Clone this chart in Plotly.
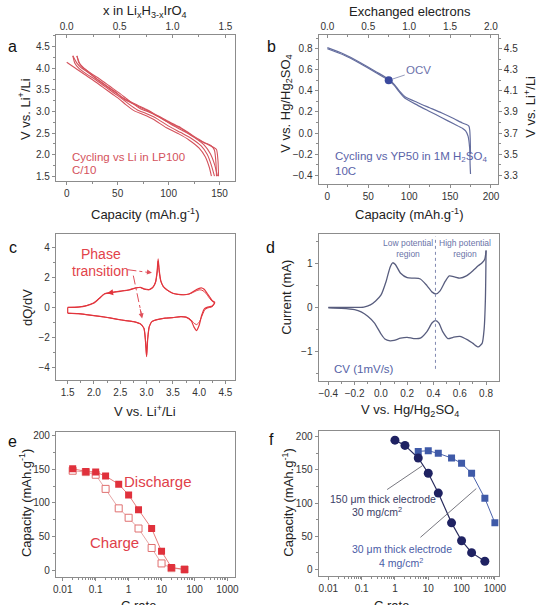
import plotly.graph_objects as go

W, H = 547, 605
FONT = "Liberation Sans, Arial, sans-serif"

# ---------------- DATA ----------------
# Panel a: galvanostatic curves vs Li (capacity mAh/g, voltage V)
a_d1_cap = [0, 5, 10, 18, 25, 35, 45, 52, 58, 66, 75, 85, 98, 110, 120, 130, 136, 140, 142]
a_d1_v = [4.14, 4.06, 3.98, 3.85, 3.74, 3.57, 3.40, 3.28, 3.16, 3.02, 2.93, 2.82, 2.62, 2.48, 2.34, 2.15, 1.95, 1.70, 1.50]
a_c1_cap = [147, 146.5, 145, 142, 135, 130, 120, 110, 98, 88, 78, 70, 62, 55, 48, 40, 30, 20, 14, 10, 6]
a_c1_v = [1.50, 1.80, 2.10, 2.20, 2.28, 2.35, 2.50, 2.65, 2.79, 2.92, 3.05, 3.14, 3.23, 3.32, 3.45, 3.58, 3.75, 3.92, 4.02, 4.12, 4.29]
a_d2_cap = [6, 8, 12, 20, 28, 38, 48, 55, 61, 69, 78, 88, 100, 112, 122, 132, 138, 142, 145]
a_d2_v = [4.29, 4.12, 4.00, 3.86, 3.74, 3.57, 3.40, 3.28, 3.17, 3.04, 2.95, 2.84, 2.66, 2.51, 2.38, 2.20, 2.00, 1.75, 1.50]
a_c2_cap = [149, 148.5, 147, 144, 137, 131, 121, 111, 99, 89, 79, 71, 63, 56, 49, 41, 31, 22, 17, 13, 10]
a_c2_v = [1.50, 1.85, 2.12, 2.17, 2.25, 2.32, 2.47, 2.62, 2.76, 2.89, 3.02, 3.11, 3.20, 3.29, 3.42, 3.55, 3.72, 3.90, 4.00, 4.10, 4.29]
a_d3_cap = [10, 12, 16, 24, 32, 42, 52, 58, 64, 72, 81, 91, 103, 115, 125, 135, 141, 145, 148]
a_d3_v = [4.29, 4.13, 4.02, 3.88, 3.76, 3.59, 3.42, 3.31, 3.20, 3.07, 2.98, 2.87, 2.69, 2.54, 2.40, 2.22, 2.02, 1.78, 1.50]

# Panel b: cycling vs YP50 in H2SO4
b_dis_cap = [0, 20, 40, 60, 75, 82, 88, 95, 110, 125, 140, 155, 165, 169, 172, 174, 174.5, 175]
b_dis_v = [0.80, 0.74, 0.66, 0.57, 0.50, 0.45, 0.39, 0.33, 0.265, 0.205, 0.145, 0.085, 0.045, 0.02, -0.03, -0.15, -0.30, -0.39]
b_chg_cap = [175, 174.6, 174, 173, 170, 165, 155, 140, 125, 110, 95, 88, 82, 75, 60, 40, 20, 0]
b_chg_v = [-0.20, -0.05, 0.03, 0.065, 0.08, 0.095, 0.135, 0.19, 0.24, 0.29, 0.345, 0.40, 0.46, 0.51, 0.58, 0.67, 0.75, 0.81]
b_ocv_cap = [75]
b_ocv_v = [0.50]

# Panel c: dQ/dV vs V (Li)
c_up1_v = [1.5, 1.7, 1.85, 2.0, 2.1, 2.2, 2.35, 2.5, 2.65, 2.8, 2.88, 2.95, 3.05, 3.12, 3.17, 3.2, 3.22, 3.24, 3.27, 3.32, 3.4, 3.5, 3.6, 3.7, 3.8, 3.88, 3.95, 4.0, 4.05, 4.1, 4.15, 4.2, 4.25, 4.3]
c_up1_q = [0.0, 0.02, 0.1, 0.3, 0.6, 0.9, 1.0, 1.08, 1.15, 1.3, 1.35, 1.25, 1.2, 1.35, 1.7, 2.4, 3.25, 2.5, 1.8, 1.4, 1.15, 0.95, 0.88, 0.85, 0.9, 1.05, 1.2, 1.28, 1.3, 1.2, 0.95, 0.7, 0.45, 0.35]
c_lo1_v = [4.3, 4.25, 4.15, 4.1, 4.05, 4.0, 3.95, 3.9, 3.85, 3.75, 3.65, 3.5, 3.35, 3.2, 3.1, 3.05, 3.02, 3.0, 2.98, 2.95, 2.88, 2.75, 2.6, 2.45, 2.3, 2.15, 2.0, 1.85, 1.7, 1.5]
c_lo1_q = [0.35, 0.1, 0.0, -0.1, -0.5, -1.2, -1.55, -1.3, -0.9, -0.65, -0.62, -0.68, -0.72, -0.82, -0.95, -1.3, -2.2, -3.3, -2.3, -1.4, -1.1, -0.95, -0.88, -0.8, -0.7, -0.62, -0.55, -0.48, -0.42, -0.38]
c_up2_v = [1.5, 1.7, 1.85, 2.0, 2.1, 2.2, 2.35, 2.5, 2.65, 2.8, 2.88, 2.95, 3.05, 3.12, 3.17, 3.2, 3.22, 3.24, 3.27, 3.32, 3.4, 3.5, 3.6, 3.7, 3.8, 3.88, 3.95, 4.0, 4.05, 4.1, 4.15, 4.2, 4.25, 4.3]
c_up2_q = [0.0, 0.03, 0.12, 0.32, 0.62, 0.92, 1.02, 1.1, 1.17, 1.32, 1.33, 1.22, 1.18, 1.33, 1.65, 2.3, 3.1, 2.4, 1.75, 1.38, 1.13, 0.94, 0.87, 0.85, 0.88, 1.0, 1.12, 1.18, 1.16, 1.05, 0.85, 0.6, 0.4, 0.3]
c_lo2_v = [4.3, 4.25, 4.15, 4.1, 4.05, 4.0, 3.95, 3.9, 3.85, 3.75, 3.65, 3.5, 3.35, 3.2, 3.1, 3.05, 3.02, 3.0, 2.98, 2.95, 2.88, 2.75, 2.6, 2.45, 2.3, 2.15, 2.0, 1.85, 1.7, 1.5]
c_lo2_q = [0.3, 0.05, -0.05, -0.2, -0.6, -1.0, -1.15, -1.05, -0.85, -0.65, -0.62, -0.68, -0.72, -0.82, -0.95, -1.3, -2.1, -3.2, -2.2, -1.4, -1.1, -0.95, -0.88, -0.8, -0.7, -0.62, -0.55, -0.48, -0.42, -0.4]

# Panel d: CV vs Hg/Hg2SO4
d_up_v = [-0.4, -0.3, -0.2, -0.13, -0.08, -0.04, 0.0, 0.04, 0.07, 0.09, 0.11, 0.15, 0.2, 0.25, 0.3, 0.35, 0.39, 0.42, 0.45, 0.49, 0.52, 0.56, 0.6, 0.65, 0.7, 0.74, 0.77, 0.79, 0.8]
d_up_i = [0.0, 0.0, 0.0, 0.01, 0.06, 0.15, 0.28, 0.6, 0.92, 1.02, 0.98, 0.78, 0.68, 0.67, 0.65, 0.5, 0.35, 0.31, 0.38, 0.6, 0.72, 0.7, 0.67, 0.72, 0.84, 0.95, 1.02, 1.1, 1.3]
d_lo_v = [0.8, 0.795, 0.785, 0.77, 0.74, 0.7, 0.66, 0.6, 0.55, 0.51, 0.47, 0.44, 0.415, 0.39, 0.35, 0.3, 0.25, 0.2, 0.15, 0.1, 0.07, 0.03, 0.0, -0.05, -0.1, -0.15, -0.2, -0.3, -0.4]
d_lo_i = [1.3, 0.2, -0.5, -0.82, -0.9, -0.82, -0.74, -0.66, -0.68, -0.71, -0.55, -0.35, -0.3, -0.35, -0.55, -0.7, -0.71, -0.68, -0.7, -0.75, -0.76, -0.72, -0.6, -0.35, -0.2, -0.1, -0.05, -0.02, -0.01]
d_divider_v = 0.415

# Panel e: rate capability vs Li
e_rate = [0.02, 0.05, 0.1, 0.2, 0.5, 1, 2, 5, 10, 20, 50]
e_discharge = [151, 147, 146, 140, 128, 112, 90, 62, 28, 4, 1]
e_charge = [148, 146, 142, 121, 92, 78, 62, 33, 10, 3, 1]

# Panel f: rate capability in H2SO4
f_rate_thick = [1, 2, 5, 10, 20, 50, 100, 200, 500]
f_cap_thick = [195, 187, 168, 145, 115, 70, 43, 25, 12]
f_rate_thin = [5, 10, 20, 50, 100, 200, 500, 1000]
f_cap_thin = [178, 179, 175, 168, 160, 145, 107, 70]

# ---------------- STYLE ----------------
RED_A = "#d4525c"
BLUE_B = "#646d9e"
RED_C = "#e2343c"
GREY_D = "#585d7e"
AXC = "#8c8c8c"
TXT = "#333333"
TICK_SIZE = 10


def px(x, y):
    return x / W, 1 - y / H


def dom_x(l, r):
    return [l / W, r / W]


def dom_y(t, b):
    return [1 - b / H, 1 - t / H]


def base_axis(**kw):
    d = dict(showline=True, linecolor=AXC, linewidth=1, ticks="outside", ticklen=3,
             tickcolor=AXC, tickfont=dict(size=TICK_SIZE, color=TXT, family=FONT),
             showgrid=False, zeroline=False, fixedrange=True)
    d.update(kw)
    return d


fig = go.Figure()


def line(x, y, xa, ya, color, width=1.0, shape="spline", smoothing=0.6, dash=None):
    fig.add_trace(go.Scatter(x=x, y=y, xaxis=xa, yaxis=ya, mode="lines",
                             line=dict(color=color, width=width, shape=shape,
                                       smoothing=smoothing if shape == "spline" else None,
                                       dash=dash),
                             hoverinfo="skip", showlegend=False))


def ghost(x, y, xa, ya):
    fig.add_trace(go.Scatter(x=x, y=y, xaxis=xa, yaxis=ya, mode="markers",
                             marker=dict(opacity=0), hoverinfo="skip", showlegend=False))


# Panel a
for cx, cy in [(a_d1_cap, a_d1_v), (a_c1_cap, a_c1_v), (a_d2_cap, a_d2_v),
               (a_c2_cap, a_c2_v), (a_d3_cap, a_d3_v)]:
    line(cx, cy, "x", "y", RED_A, 1.1)
ghost([0.5], [3.0], "x2", "y")

# Panel b
line(b_dis_cap, b_dis_v, "x3", "y2", BLUE_B, 1.2)
line(b_chg_cap, b_chg_v, "x3", "y2", BLUE_B, 1.2)
fig.add_trace(go.Scatter(x=b_ocv_cap, y=b_ocv_v, xaxis="x3", yaxis="y2", mode="markers",
                         marker=dict(color="#3b4a9e", size=8), hoverinfo="skip", showlegend=False))
ghost([1.0], [0.2], "x4", "y2")
ghost([100], [3.9], "x3", "y3")

# Panel c
line(c_up1_v, c_up1_q, "x5", "y4", RED_C, 1.2, smoothing=0.5)
line(c_lo1_v, c_lo1_q, "x5", "y4", RED_C, 1.2, smoothing=0.5)
line(c_up2_v, c_up2_q, "x5", "y4", RED_C, 1.0, smoothing=0.5)
line(c_lo2_v, c_lo2_q, "x5", "y4", RED_C, 1.0, smoothing=0.5)
line([c_up1_v[0], c_lo1_v[-1]], [c_up1_q[0], c_lo1_q[-1]], "x5", "y4", RED_C, 1.2, shape="linear")
line([c_up1_v[-1], c_lo1_v[0]], [c_up1_q[-1], c_lo1_q[0]], "x5", "y4", RED_C, 1.2, shape="linear")

# Panel d
line(d_up_v, d_up_i, "x6", "y5", GREY_D, 1.3, smoothing=0.6)
line(d_lo_v, d_lo_i, "x6", "y5", GREY_D, 1.3, smoothing=0.6)
line([d_divider_v, d_divider_v], [-1.4, 1.62], "x6", "y5", "#8088b0", 1.0, shape="linear", dash="dot")

# Panel e
fig.add_trace(go.Scatter(x=e_rate, y=e_charge, xaxis="x7", yaxis="y6", mode="lines+markers",
                         line=dict(color="#e09090", width=0.8),
                         marker=dict(symbol="square", size=7, color="white",
                                     line=dict(width=1, color="#e07070")),
                         hoverinfo="skip", showlegend=False))
fig.add_trace(go.Scatter(x=e_rate, y=e_discharge, xaxis="x7", yaxis="y6", mode="lines+markers",
                         line=dict(color="#e05a5a", width=0.8),
                         marker=dict(symbol="square", size=7, color="#e0313c"),
                         hoverinfo="skip", showlegend=False))

# Panel f
fig.add_trace(go.Scatter(x=f_rate_thin, y=f_cap_thin, xaxis="x8", yaxis="y7", mode="lines+markers",
                         line=dict(color="#4a62ac", width=1),
                         marker=dict(symbol="square", size=7, color="#3f5aa8"),
                         hoverinfo="skip", showlegend=False))
fig.add_trace(go.Scatter(x=f_rate_thick, y=f_cap_thick, xaxis="x8", yaxis="y7", mode="lines+markers",
                         line=dict(color="#2a2d5e", width=1.2),
                         marker=dict(symbol="circle", size=9, color="#1f2262"),
                         hoverinfo="skip", showlegend=False))

# ---------------- AXES ----------------
lin_minor = lambda d, t="outside": dict(ticks=t, ticklen=2, tickcolor=AXC, dtick=d)
log_minor = dict(tickmode="array", ticks="outside", ticklen=2, tickcolor=AXC,
                 tickvals=[m * 10.0 ** e for e in range(-2, 3) for m in range(2, 10)])
log_vals = [0.01, 0.1, 1, 10, 100, 1000]
log_text = ["0.01", "0.1", "1", "10", "100", "1000"]

xa_ = dom_x(54, 237)
xb_ = dom_x(322, 505)

layout_axes = dict(
    # panel a
    xaxis=base_axis(domain=xa_, range=[-10.6, 165.4], anchor="y", mirror=True,
                    tick0=0, dtick=50, minor=lin_minor(25)),
    xaxis2=base_axis(range=[-0.102, 1.593], anchor="y", overlaying="x", side="top",
                     ticks="inside", tick0=0, dtick=0.5, tickformat=".1f",
                     minor=lin_minor(0.25, "inside")),
    yaxis=base_axis(domain=dom_y(33, 180), range=[1.385, 4.777], anchor="x", mirror=True,
                    tick0=1.5, dtick=0.5, tickformat=".1f", minor=lin_minor(0.25)),
    # panel b
    xaxis3=base_axis(domain=xb_, range=[-10.8, 208.4], anchor="y2", mirror=True,
                     tick0=0, dtick=50, minor=lin_minor(25)),
    xaxis4=base_axis(range=[-0.108, 2.084], anchor="y2", overlaying="x3", side="top",
                     ticks="inside", tick0=0, dtick=0.5, tickformat=".1f",
                     minor=lin_minor(0.25, "inside")),
    yaxis2=base_axis(domain=dom_y(33, 183), range=[-0.485, 0.932], anchor="x3", mirror=True,
                     tick0=-0.4, dtick=0.2, tickformat=".1f", minor=lin_minor(0.1)),
    yaxis3=base_axis(range=[3.215, 4.632], anchor="x3", overlaying="y2", side="right",
                     tick0=3.3, dtick=0.2, tickformat=".1f", minor=lin_minor(0.1)),
    # panel c
    xaxis5=base_axis(domain=dom_x(54, 237), range=[1.276, 4.686], anchor="y4", mirror=True,
                     tick0=1.5, dtick=0.5, tickformat=".1f", minor=lin_minor(0.25)),
    yaxis4=base_axis(domain=dom_y(233, 380), range=[-4.87, 4.93], anchor="x5", mirror=True,
                     tick0=-4, dtick=2, minor=lin_minor(1)),
    # panel d
    xaxis6=base_axis(domain=dom_x(322, 506), range=[-0.4745, 0.897], anchor="y5", mirror=True,
                     tick0=-0.4, dtick=0.2, tickformat=".1f", minor=lin_minor(0.1)),
    yaxis5=base_axis(domain=dom_y(233, 381), range=[-1.68, 1.68], anchor="x6", mirror=True,
                     tick0=-1, dtick=1, minor=lin_minor(0.5)),
    # panel e
    xaxis7=base_axis(domain=dom_x(54, 237), type="log", range=[-2.208, 3.238], anchor="y6",
                     mirror=True, tickmode="array", tickvals=log_vals, ticktext=log_text,
                     minor=log_minor),
    yaxis6=base_axis(domain=dom_y(432, 578), range=[-10.4, 205.9], anchor="x7", mirror=True,
                     tick0=0, dtick=50, minor=lin_minor(25)),
    # panel f
    xaxis8=base_axis(domain=dom_x(322, 506), type="log", range=[-2.294, 3.118], anchor="y7",
                     mirror=True, tickmode="array", tickvals=log_vals, ticktext=log_text,
                     minor=log_minor),
    yaxis7=base_axis(domain=dom_y(431, 577), range=[-10.5, 209], anchor="x8", mirror=True,
                     tick0=0, dtick=50, minor=lin_minor(25)),
)

# ---------------- ANNOTATIONS ----------------
anns = []


def text(xp, yp, s, size=13, color="#222", xanchor="center", yanchor="middle", angle=0):
    x, y = px(xp, yp)
    anns.append(dict(x=x, y=y, xref="paper", yref="paper", text=s, showarrow=False,
                     xanchor=xanchor, yanchor=yanchor, textangle=angle,
                     font=dict(size=size, color=color, family=FONT)))


# panel letters
for lx, ly, l in [(10, 45, "a"), (274, 45, "b"), (10, 247, "c"), (273, 247, "d"),
                  (10, 442, "e"), (274, 440, "f")]:
    text(lx, ly, l, size=16, color="#111")

# axis titles
text(145, 10, "x in Li<sub>x</sub>H<sub>3-x</sub>IrO<sub>4</sub>", 13)
text(415, 10, "Exchanged electrons", 13)
text(145, 213, "Capacity (mAh.g<sup>-1</sup>)", 13)
text(415, 213, "Capacity (mAh.g<sup>-1</sup>)", 13)
text(145, 411, "V vs. Li<sup>+</sup>/Li", 13)
text(415, 411, "V vs. Hg/Hg<sub>2</sub>SO<sub>4</sub>", 13)
text(138, 597, "C rate", 13, yanchor="top")
text(396, 597, "C rate", 13, yanchor="top")
text(22, 108, "V vs. Li<sup>+</sup>/Li", 13, angle=-90)
text(289, 102, "V vs. Hg/Hg<sub>2</sub>SO<sub>4</sub>", 13, angle=-90)
text(538, 105, "V vs. Li<sup>+</sup>/Li", 13, angle=-90)
text(25, 307, "dQ/dV", 13, angle=-90)
text(289, 297, "Current (mA)", 13, angle=-90)
text(22, 503, "Capacity (mAh.g<sup>-1</sup>)", 13, angle=-90)
text(290, 503, "Capacity (mAh.g<sup>-1</sup>)", 13, angle=-90)

# panel a texts
text(68, 156, "Cycling vs Li in LP100", 11.5, RED_A, xanchor="left")
text(68, 169, "C/10", 11.5, RED_A, xanchor="left")

# panel b texts
text(337, 156, "Cycling vs YP50 in 1M H<sub>2</sub>SO<sub>4</sub>", 11.5, "#5a63a8", xanchor="left")
text(337, 170, "10C", 11.5, "#5a63a8", xanchor="left")
anns.append(dict(x=b_ocv_cap[0], y=b_ocv_v[0], xref="x3", yref="y2", text="OCV",
                 showarrow=True, arrowhead=0, arrowwidth=0.8, arrowcolor="#7a80aa",
                 ax=30, ay=-10, standoff=4,
                 font=dict(size=11.5, color="#6b72aa", family=FONT)))

# panel c texts
text(100, 253, "Phase", 14, "#e2434a")
text(100, 270, "transition", 14, "#e2434a")

# panel d texts
text(413, 248, "Low potential<br>region", 8.5, "#6a74a8")
text(471, 248, "High potential<br>region", 8.5, "#6a74a8")
text(336, 369, "CV (1mV/s)", 11.5, "#5563a6", xanchor="left")

# panel e texts
text(158, 482, "Discharge", 15, "#e0404a")
text(114, 543, "Charge", 15, "#e0404a")

# panel f texts
text(388, 499, "150 \u03bcm thick electrode", 10.5, "#3a3d66")
text(382, 512, "30 mg/cm<sup>2</sup>", 10.5, "#3a3d66")
text(407, 550, "30 \u03bcm thick electrode", 10.5, "#4a5ca6")
text(406, 563, "4 mg/cm<sup>2</sup>", 10.5, "#4a5ca6")

# small direction arrow on panel c curve (tip in data coords)
anns.append(dict(x=2.25, y=0.95, xref="x5", yref="y4", text="", showarrow=True,
                 arrowhead=2, arrowsize=1, arrowwidth=1.2, arrowcolor=RED_C, ax=6, ay=-1))

# phase transition arrow heads
for (hx, hy, tx, ty) in [(152, 272, 127, 269), (142, 318, 133, 275)]:
    hxp, hyp = px(hx, hy)
    anns.append(dict(x=hxp, y=hyp, xref="paper", yref="paper", text="", showarrow=True,
                     arrowhead=2, arrowsize=1, arrowwidth=1, arrowcolor="#e0505a",
                     ax=(tx - hx) * 0.25, ay=(ty - hy) * 0.25))

# ---------------- SHAPES ----------------
shapes = []


def pline(x0, y0, x1, y1, color, width=0.8, dash="solid"):
    a0, b0 = px(x0, y0)
    a1, b1 = px(x1, y1)
    shapes.append(dict(type="line", xref="paper", yref="paper", x0=a0, y0=b0, x1=a1, y1=b1,
                       line=dict(color=color, width=width, dash=dash)))


pline(127, 269, 150, 272, "#e0505a", 1, "dashdot")
pline(133, 275, 141.5, 315, "#e0505a", 1, "dashdot")
pline(392, 490, 428, 466, "#555560", 0.8)
pline(426, 538, 483, 489, "#555560", 0.8)

fig.update_layout(
    width=W, height=H, margin=dict(l=0, r=0, t=0, b=0),
    paper_bgcolor="white", plot_bgcolor="white", showlegend=False,
    font=dict(family=FONT, color=TXT),
    annotations=anns, shapes=shapes,
    **layout_axes,
)

fig.write_html("out.html")
